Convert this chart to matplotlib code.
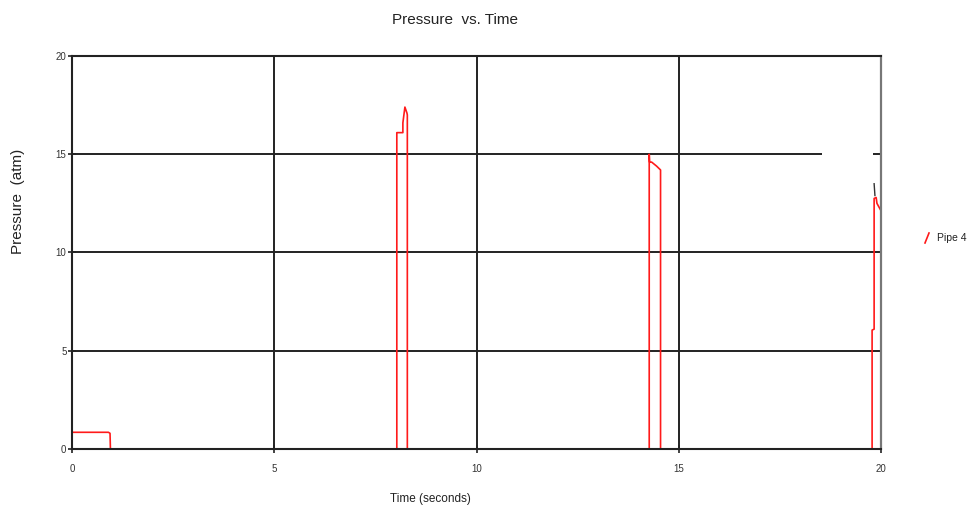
import matplotlib
matplotlib.use("Agg")
import matplotlib.pyplot as plt
from matplotlib.lines import Line2D

plt.rcParams['font.family'] = ['Liberation Sans', 'DejaVu Sans']

# Pipe 4 pressure trace (time in s, pressure in atm)
time_s = [0.00, 0.90, 0.94, 0.95, 8.03, 8.03, 8.18, 8.18, 8.23, 8.28, 8.29, 8.29,
          14.27, 14.27, 14.27, 14.28, 14.33, 14.45, 14.55, 14.55, 14.56,
          19.78, 19.78, 19.83, 19.83, 19.88, 19.90, 19.98]
pressure_atm = [0.85, 0.85, 0.80, 0.00, 0.00, 16.1, 16.1, 16.6, 17.4, 17.1, 17.0, 0.00,
                0.00, 13.4, 15.0, 14.6, 14.6, 14.4, 14.2, 0.00, 0.00,
                0.00, 6.05, 6.1, 12.75, 12.8, 12.5, 12.2]

# small black fragment near the end
black_time = [19.83, 19.85]
black_pressure = [13.5, 12.9]

x_ticks = [0, 5, 10, 15, 20]
y_ticks = [0, 5, 10, 15, 20]
series_label = "Pipe 4"

fig = plt.figure(figsize=(9.69, 5.13), dpi=100)
ax = fig.add_axes([72 / 969, 1 - 449 / 513, (881 - 72) / 969, (449 - 56) / 513])

ax.set_xlim(0, 20)
ax.set_ylim(0, 20)

grid_kw = dict(color='#222222', lw=1.4, zorder=1)
for xv in x_ticks[1:-1]:
    ax.axvline(xv, **grid_kw)
for yv in y_ticks[1:-1]:
    if yv == 15:
        ax.hlines(yv, 0, 18.53, **grid_kw)
        ax.hlines(yv, 19.81, 20, **grid_kw)
    else:
        ax.axhline(yv, **grid_kw)

ax.plot(time_s, pressure_atm, color='#ff1a1a', lw=1.2, zorder=2)
ax.plot(black_time, black_pressure, color='#333333', lw=1.0, zorder=2)

for side in ['left', 'bottom', 'top']:
    ax.spines[side].set_color('#222222')
    ax.spines[side].set_linewidth(1.5)
    ax.spines[side].set_zorder(5)
ax.spines['right'].set_color('#777777')
ax.spines['right'].set_linewidth(1.6)
ax.spines['right'].set_zorder(5)

ax.set_xticks(x_ticks)
ax.set_yticks(y_ticks)
ax.set_xticklabels([str(v) for v in x_ticks])
ax.set_yticklabels([str(v) for v in y_ticks])
ax.tick_params(axis='both', direction='inout', length=6, width=1.2,
               color='#222222', labelsize=7, labelcolor='#333333')
ax.tick_params(axis='x', pad=8)
ax.tick_params(axis='y', pad=1)

fig.text(455 / 969, 1 - 20 / 513, "Pressure  vs. Time", ha='center', va='center',
         fontsize=11, color='#222222')
fig.text(18 / 969, 1 - 201 / 513, "Pressure  (atm)", ha='center', va='center',
         rotation=90, fontsize=11, color='#222222')
fig.text(430 / 969, 1 - 499 / 513, "Time (seconds)", ha='center', va='center',
         fontsize=8.5, color='#222222')

# legend
fig.add_artist(Line2D([925 / 969, 929 / 969], [1 - 243 / 513, 1 - 233 / 513],
                      color='#ff1a1a', lw=1.2, transform=fig.transFigure))
fig.text(937 / 969, 1 - 238 / 513, series_label, ha='left', va='center',
         fontsize=7.5, color='#222222')

fig.savefig("out.png", dpi=100)
